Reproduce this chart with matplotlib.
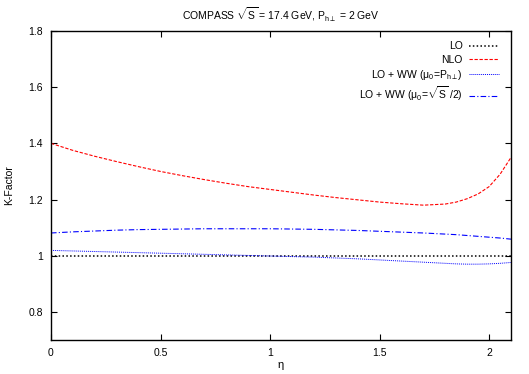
import matplotlib.pyplot as plt

eta = [0.0, 0.1, 0.2, 0.3, 0.4, 0.5, 0.6, 0.7, 0.8, 0.9, 1.0, 1.1, 1.2, 1.3,
       1.4, 1.5, 1.6, 1.7, 1.8, 1.85, 1.9, 1.95, 2.0, 2.05, 2.1]
k_lo = [1.0] * len(eta)
k_nlo = [1.400, 1.375, 1.354, 1.335, 1.317, 1.300, 1.285, 1.271, 1.258, 1.246,
         1.236, 1.226, 1.216, 1.207, 1.199, 1.191, 1.185, 1.180, 1.184, 1.191,
         1.203, 1.220, 1.246, 1.290, 1.350]
k_ww_pt = [1.019, 1.017, 1.015, 1.013, 1.011, 1.009, 1.007, 1.005, 1.003, 1.001,
           0.999, 0.997, 0.995, 0.992, 0.989, 0.985, 0.981, 0.977, 0.973, 0.971,
           0.970, 0.970, 0.971, 0.973, 0.976]
k_ww_s = [1.081, 1.085, 1.088, 1.091, 1.093, 1.094, 1.095, 1.096, 1.096, 1.096,
          1.096, 1.095, 1.094, 1.092, 1.090, 1.087, 1.084, 1.081, 1.077, 1.075,
          1.072, 1.069, 1.066, 1.063, 1.059]

plt.rcParams['font.family'] = ['Liberation Sans', 'DejaVu Sans']
plt.rcParams['mathtext.fontset'] = 'custom'
plt.rcParams['mathtext.rm'] = 'Liberation Sans'
plt.rcParams['mathtext.it'] = 'Liberation Sans'
plt.rcParams['mathtext.default'] = 'regular'

fig = plt.figure(figsize=(5.29, 3.74), dpi=100)
ax = fig.add_axes([0.0964, 0.0909, 0.8696, 0.8262])

ax.plot(eta, k_lo, color="black", linestyle=(0, (1, 1.5)), linewidth=1.1, label="LO")
ax.plot(eta, k_nlo, color="red", linestyle=(0, (3, 1.5)), linewidth=0.8, label="NLO")
ax.plot(eta, k_ww_pt, color="blue", linestyle=(0, (1, 1)), linewidth=0.7,
        label=r"LO + WW ($\mu_0$=P$_{h\perp}$)")
ax.plot(eta, k_ww_s, color="blue", linestyle=(0, (5, 2, 1, 2)), linewidth=0.8,
        label=r"LO + WW ($\mu_0$=$\sqrt{S}$ /2)")

ax.set_xlim(0, 2.1)
ax.set_ylim(0.7, 1.8)
ax.set_xticks([0, 0.5, 1, 1.5, 2])
ax.set_xticklabels(["0", "0.5", "1", "1.5", "2"])
ax.set_yticks([0.8, 1.0, 1.2, 1.4, 1.6, 1.8])
ax.set_yticklabels(["0.8", "1", "1.2", "1.4", "1.6", "1.8"])
ax.tick_params(axis="both", which="major", labelsize=7.5, direction="in",
               top=True, right=True, length=4, width=0.8, pad=6)
for s in ax.spines.values():
    s.set_linewidth(1.0)

ax.set_xlabel(r"$\eta$", fontsize=8, labelpad=1)
ax.set_ylabel("K-Factor", fontsize=7.5, labelpad=10)
ax.set_title(r"COMPASS $\sqrt{S}$ = 17.4 GeV, P$_{h\perp}$ = 2 GeV", fontsize=7.5, pad=8)

ax.legend(loc="upper right", frameon=False, markerfirst=False, fontsize=7.5,
          handlelength=2.9, handletextpad=0.6, labelspacing=0.3,
          borderaxespad=0.3, bbox_to_anchor=(0.99, 0.99))

plt.savefig("out.png", dpi=100)
